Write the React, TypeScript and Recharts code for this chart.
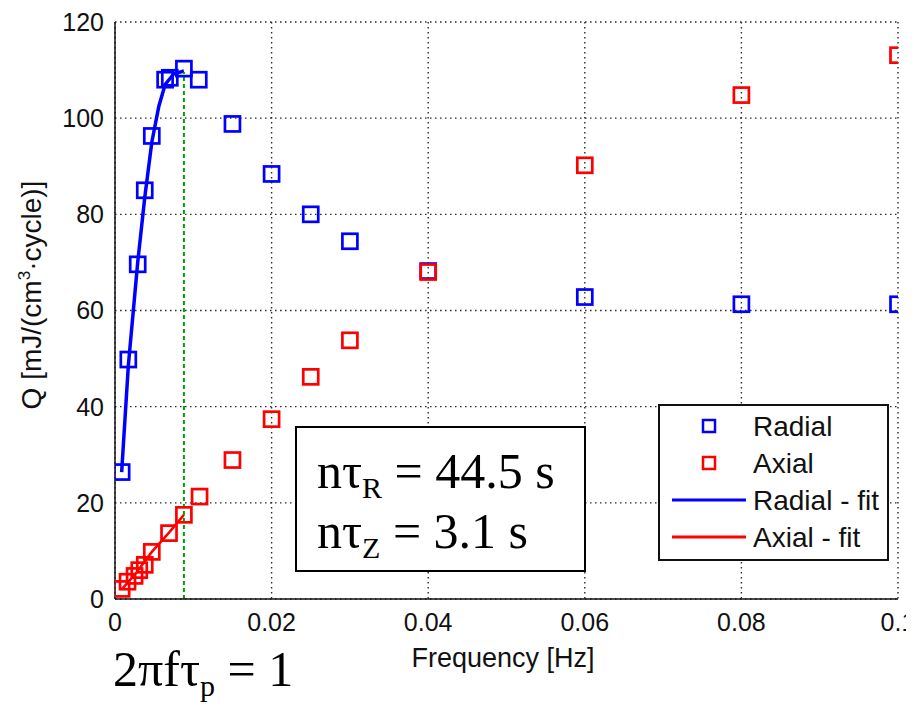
import React from 'react';
import { ComposedChart, Scatter, Line, XAxis, YAxis, CartesianGrid, Legend } from 'recharts';

// Measured loss per cycle vs. loading frequency
const radialFreq = [0.00085, 0.0017, 0.0029, 0.0038, 0.0047, 0.0064, 0.007, 0.0088, 0.0107, 0.015, 0.02, 0.025, 0.03, 0.04, 0.06, 0.08, 0.1];
const radialQ = [26.4, 49.8, 69.6, 85.0, 96.3, 108.0, 108.4, 110.3, 108.0, 98.8, 88.4, 80.0, 74.4, 68.2, 62.8, 61.3, 61.3];

const axialFreq = [0.00085, 0.0016, 0.0025, 0.0031, 0.0038, 0.0047, 0.0069, 0.0088, 0.0108, 0.015, 0.02, 0.025, 0.03, 0.04, 0.06, 0.08, 0.1];
const axialQ = [2.1, 3.6, 4.8, 6.0, 7.1, 9.8, 13.7, 17.5, 21.3, 28.9, 37.4, 46.2, 53.8, 68.0, 90.2, 104.8, 113.1];

// Model fits over the low-frequency range
const radialFitFreq = [0.00085, 0.0017, 0.0029, 0.0038, 0.0047, 0.0056, 0.0064, 0.0075, 0.0088];
const radialFitQ = [26.4, 48.5, 70.0, 83.5, 95.0, 102.5, 107.0, 109.2, 109.8];

const axialFitFreq = [0.00085, 0.0025, 0.0047, 0.0069, 0.0088];
const axialFitQ = [2.0, 5.0, 9.8, 13.8, 17.5];

// Frequency where 2πfτp = 1
const peakFreq = [0.0088, 0.0088];
const peakQ = [0, 109.6];

const freqTicks = [0, 0.02, 0.04, 0.06, 0.08, 0.1];
const qTicks = [0, 20, 40, 60, 80, 100, 120];

const legendItems = [
  { name: 'Radial', color: '#0000ff', kind: 'square' },
  { name: 'Axial', color: '#ff0000', kind: 'square' },
  { name: 'Radial - fit', color: '#0000ff', kind: 'line' },
  { name: 'Axial - fit', color: '#ff0000', kind: 'line' },
];

const zip = (fs: number[], qs: number[]) => fs.map((f, i) => ({ f, Q: qs[i] }));

const radialData = zip(radialFreq, radialQ);
const axialData = zip(axialFreq, axialQ);
const radialFitData = zip(radialFitFreq, radialFitQ);
const axialFitData = zip(axialFitFreq, axialFitQ);
const peakData = zip(peakFreq, peakQ);

const W = 906;
const H = 700;
const SANS = 'Liberation Sans, Arial, Helvetica, sans-serif';
const SERIF = 'Liberation Serif, Times New Roman, serif';

const squareShape = (color: string) => (props: any) => {
  const { cx, cy } = props;
  if (cx == null || cy == null) return <g />;
  return <rect x={cx - 7.5} y={cy - 7.5} width={15} height={15} fill="none" stroke={color} strokeWidth={2.7} />;
};

const LegendBox = () => (
  <svg width={231} height={157} style={{ display: 'block' }}>
    <rect x={1} y={1} width={229} height={155} fill="#fff" stroke="#111" strokeWidth={2} />
    {legendItems.map((item, i) => {
      const cy = 22 + i * 37;
      return (
        <g key={item.name}>
          {item.kind === 'square' ? (
            <rect x={45} y={cy - 6} width={12} height={12} fill="none" stroke={item.color} strokeWidth={2.5} />
          ) : (
            <line x1={14} x2={88} y1={cy} y2={cy} stroke={item.color} strokeWidth={3} />
          )}
          <text x={95} y={cy + 10} fontFamily={SANS} fontSize={28} fill="#111">{item.name}</text>
        </g>
      );
    })}
  </svg>
);

export default function App() {
  const axisLine = { stroke: '#111', strokeWidth: 1.5 };
  const innerTick = { stroke: '#111', strokeWidth: 1.2 };
  const tickStyle = { fill: '#111', fontSize: 25, fontFamily: SANS };
  return (
    <div style={{ position: 'relative', width: W, height: H, background: '#fff' }}>
      <ComposedChart width={W} height={H} margin={{ top: 14, right: 16, bottom: 69, left: 47 }}>
        <CartesianGrid stroke="#2a2a2a" strokeDasharray="1.5 3.5" strokeWidth={1.4} />
        <XAxis
          xAxisId={0}
          type="number"
          dataKey="f"
          domain={[0, 0.1]}
          ticks={freqTicks}
          interval={0}
          allowDataOverflow
          height={40}
          tickLine={false}
          tickSize={6}
          tickMargin={8}
          axisLine={axisLine}
          tick={tickStyle}
          tickFormatter={(v: number) => String(v)}
        />
        <XAxis xAxisId="bottomIn" type="number" orientation="bottom" mirror domain={[0, 0.1]} ticks={freqTicks} interval={0} height={0} tick={false} tickSize={8} axisLine={false} tickLine={innerTick} />
        <XAxis xAxisId="top" type="number" orientation="top" mirror domain={[0, 0.1]} ticks={freqTicks} interval={0} height={0} tick={false} tickSize={8} axisLine={axisLine} tickLine={innerTick} />
        <YAxis
          yAxisId={0}
          type="number"
          domain={[0, 120]}
          ticks={qTicks}
          interval={0}
          allowDataOverflow
          width={60}
          tickLine={false}
          tickSize={6}
          tickMargin={5}
          axisLine={axisLine}
          tick={tickStyle}
        />
        <YAxis yAxisId="leftIn" type="number" orientation="left" mirror domain={[0, 120]} ticks={qTicks} interval={0} width={0} tick={false} tickSize={8} axisLine={false} tickLine={innerTick} />
        <YAxis yAxisId="right" type="number" orientation="right" mirror domain={[0, 120]} ticks={qTicks} interval={0} width={0} tick={false} tickSize={8} axisLine={axisLine} tickLine={innerTick} />

        <Scatter name="Radial" data={radialData} dataKey="Q" shape={squareShape('#0000ff')} isAnimationActive={false} />
        <Scatter name="Axial" data={axialData} dataKey="Q" shape={squareShape('#ff0000')} isAnimationActive={false} />
        <Line name="Radial - fit" data={radialFitData} dataKey="Q" stroke="#0000ff" strokeWidth={3.5} dot={false} activeDot={false} type="linear" isAnimationActive={false} />
        <Line name="Axial - fit" data={axialFitData} dataKey="Q" stroke="#ff0000" strokeWidth={2.5} dot={false} activeDot={false} type="linear" isAnimationActive={false} />
        <Line name="2πfτp = 1" data={peakData} dataKey="Q" stroke="#00a000" strokeWidth={2} strokeDasharray="4 3" dot={false} activeDot={false} type="linear" isAnimationActive={false} legendType="none" />

        <Legend
          layout="vertical"
          align="center"
          verticalAlign="middle"
          width={231}
          height={157}
          wrapperStyle={{ left: 650, top: 396, width: 231, height: 157 }}
          content={() => <LegendBox />}
        />
      </ComposedChart>

      <svg width={W} height={H} style={{ position: 'absolute', left: 0, top: 0, pointerEvents: 'none' }}>
        <text x={495} y={659} textAnchor="middle" fontFamily={SANS} fontSize={27} fill="#111">Frequency [Hz]</text>
        <text transform="translate(33,287) rotate(-90)" textAnchor="middle" fontFamily={SANS} fontSize={28} fill="#111">
          Q [mJ/(cm<tspan fontSize={17} dy={-11}>3</tspan><tspan dy={11}>·cycle)]</tspan>
        </text>

        <rect x={288} y={419} width={289} height={144} fill="#fff" stroke="#000" strokeWidth={2} />
        <text x={309} y={480} fontFamily={SERIF} fontSize={50} fill="#000">
          nτ<tspan fontSize={30} dy={10}>R</tspan><tspan dy={-10}>{' = 44.5 s'}</tspan>
        </text>
        <text x={309} y={540} fontFamily={SERIF} fontSize={50} fill="#000">
          nτ<tspan fontSize={30} dy={10}>Z</tspan><tspan dy={-10}>{' = 3.1 s'}</tspan>
        </text>

        <text x={105} y={678} fontFamily={SERIF} fontSize={50} fill="#000">
          2πfτ<tspan fontSize={30} dy={10}>p</tspan><tspan dy={-10}>{' = 1'}</tspan>
        </text>
      </svg>
    </div>
  );
}
